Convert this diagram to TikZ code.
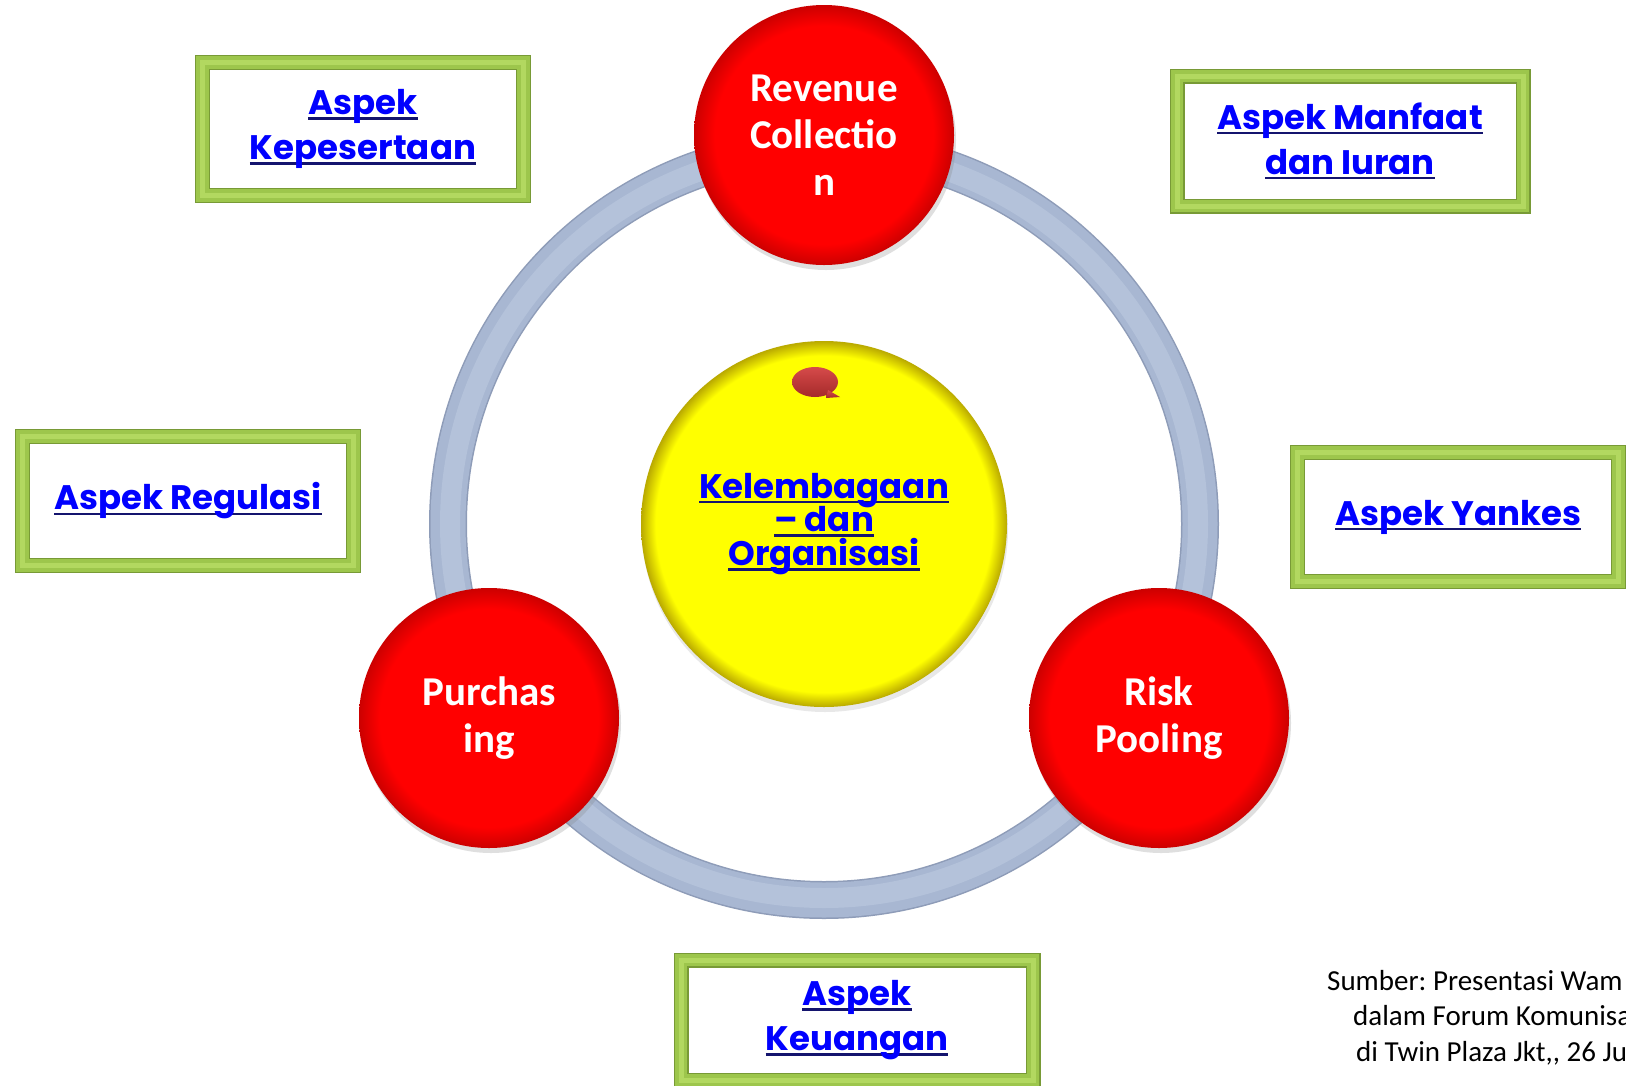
\documentclass[tikz,border=0pt]{standalone}
\usepackage{fontspec}
\setmainfont{Carlito}
\newfontfamily\geo{Poppins}
\usetikzlibrary{shadows}

\definecolor{ringcol}{HTML}{A8B7D2}
\definecolor{ringhi}{HTML}{B4C2DA}
\definecolor{ringdk}{HTML}{8E9CB8}
\definecolor{linkblue}{HTML}{0000FF}
\definecolor{ulnavy}{HTML}{14146E}
\definecolor{framemid}{HTML}{9DC64C}
\definecolor{framelite}{HTML}{B2D860}
\definecolor{frameedge}{HTML}{789A36}
\definecolor{sunrim}{HTML}{B9A900}
\definecolor{blobtop}{HTML}{D64A4A}
\definecolor{blobbot}{HTML}{A52A2A}

% flat discs with a slightly darker rim
\pgfdeclareradialshading{redball}{\pgfpoint{0bp}{0bp}}{%
  color(0bp)=(red); color(21bp)=(red); color(25bp)=(red!80!black); color(50bp)=(red!80!black)}
\pgfdeclareradialshading{sunball}{\pgfpoint{0bp}{0bp}}{%
  color(0bp)=(yellow); color(23bp)=(yellow); color(25bp)=(sunrim); color(50bp)=(sunrim)}

% underlined link text
\newcommand\ulink[1]{\setbox0\hbox{#1}\leavevmode\rlap{\color{ulnavy}\rule[-0.15em]{\wd0}{0.07em}}\box0}

\tikzset{
  aspek/.style={rectangle, fill=white, draw=frameedge, line width=1.2pt,
    double=framemid, double distance=12.6pt, align=center, text=linkblue,
    font=\geo\bfseries\fontsize{34}{45}\selectfont,
    drop shadow={shadow xshift=3pt, shadow yshift=-4pt, opacity=0.22},
    postaction={draw=framelite, line width=5pt, double=none}},
  redball/.style={circle, minimum size=260pt, shading=redball, align=center,
    text=white, font=\bfseries\fontsize{41}{47}\selectfont,
    drop shadow={shadow xshift=2pt, shadow yshift=-5pt, opacity=0.25}},
  sunball/.style={circle, minimum size=366pt, shading=sunball, align=center,
    text=linkblue, font=\geo\bfseries\fontsize{34}{34}\selectfont,
    drop shadow={shadow xshift=1pt, shadow yshift=-5pt, opacity=0.18}},
  srctext/.style={anchor=base west, inner sep=0pt, font=\fontsize{29}{35}\selectfont}
}

\begin{document}
\begin{tikzpicture}[x=1pt,y=-1pt]
\useasboundingbox (0,0) rectangle (1626,1085);
\clip (0,0) rectangle (1626,1085);
\fill[white] (0,0) rectangle (1626,1085);

% ring
\node[circle, minimum size=752pt, draw=ringdk, line width=1.5pt,
  double=ringcol, double distance=35pt] (ring) at (824,524) {};
\draw[ringhi, line width=20pt] (ring.center) circle[radius=374pt];

% centre disc
\node[sunball] (core) at (824,524) {\ulink{Kelembagaan}\\[-2pt]\ulink{– dan}\\\ulink{Organisasi}};
\shade[top color=blobtop, bottom color=blobbot]
  (815,382) ellipse[x radius=23pt, y radius=15pt];
\shade[top color=blobtop, bottom color=blobbot]
  (828,390) -- (840,397) -- (826,398) -- cycle;

% three functions
\node[redball] (rev) at (824,135) {Revenue\\Collectio\\n};
\node[redball] (pur) at (489,718) {Purchas\\ing};
\node[redball] (risk) at (1159,718) {Risk\\Pooling};

% aspect boxes
\node[aspek, minimum width=321pt, minimum height=133pt] (kep) at (363,129)
  {\ulink{Aspek}\\\ulink{Kepesertaan}};
\node[aspek, minimum width=346pt, minimum height=130pt] (man) at (1350,141)
  {\ulink{Aspek Manfaat}\\\ulink{dan Iuran}};
\node[aspek, minimum width=331pt, minimum height=129pt] (reg) at (188,501)
  {\ulink{Aspek Regulasi}};
\node[aspek, minimum width=321pt, minimum height=129pt] (yan) at (1458,517)
  {\ulink{Aspek Yankes}};
\node[aspek, minimum width=352pt, minimum height=120pt] (keu) at (857,1020)
  {\ulink{Aspek}\\\ulink{Keuangan}};

% source note
\node[srctext] (src1) at (1327,990) {\frenchspacing Sumber: Presentasi Wam};
\node[srctext] (src2) at (1353,1025) {dalam Forum Komunisa};
\node[srctext] (src3) at (1356,1061) {di Twin Plaza Jkt,\kern0pt, 26 Ju};
\end{tikzpicture}
\end{document}
